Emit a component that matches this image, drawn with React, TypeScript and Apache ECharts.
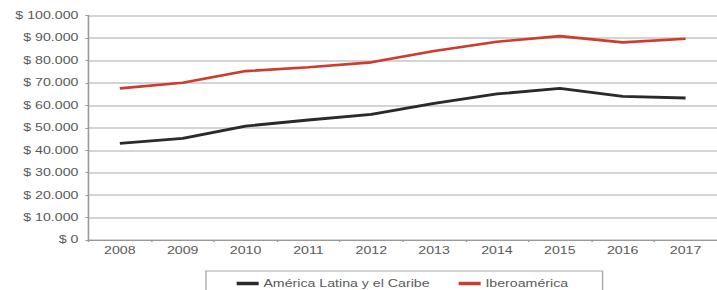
import React, { useEffect, useRef } from "react";
import * as echarts from "echarts";

const categories = ["2008", "2009", "2010", "2011", "2012", "2013", "2014", "2015", "2016", "2017"];
const latinAmerica = [43100, 45300, 50800, 53500, 56000, 60900, 65100, 67600, 64000, 63300];
const iberoamerica = [67600, 70100, 75300, 77000, 79200, 84300, 88400, 90900, 88100, 89700];
const seriesNames = ["América Latina y el Caribe", "Iberoamérica"];

const W = 531;
const S = 717 / W;
const FONT = "'Liberation Sans', Arial, sans-serif";
const TEXT = "#5a5a5a";
const FS = 10.5;

const fmt = (v: number) => "$ " + String(v).replace(/\B(?=(\d{3})+(?!\d))/g, ".");

export default function App() {
  const ref = useRef<HTMLDivElement>(null);
  useEffect(() => {
    if (!ref.current) return;
    const chart = echarts.init(ref.current, undefined, { renderer: "svg" });
    chart.setOption({
      animation: false,
      textStyle: { fontFamily: FONT },
      grid: { left: 88.4 / S, right: W - 722.5 / S, top: 15.7, bottom: 50 },
      legend: {
        left: 206 / S,
        top: 271,
        orient: "horizontal",
        borderColor: "#a8a8a8",
        borderWidth: 1,
        padding: [7, 25.5, 14, 22.7],
        itemWidth: 22 / S,
        itemHeight: 3.5,
        itemGap: 21.5,
        icon: "rect",
        textStyle: { fontSize: FS, color: TEXT, fontFamily: FONT, padding: [0, 0, 0, -1.5] },
        data: seriesNames,
      },
      xAxis: {
        type: "category",
        data: categories,
        boundaryGap: true,
        axisLine: { show: true, lineStyle: { color: "#9a9a9a", width: 1.2 } },
        axisTick: { show: true, length: 2, lineStyle: { color: "#9a9a9a" } },
        axisLabel: { fontSize: FS, color: TEXT, margin: 5, fontFamily: FONT },
        splitLine: { show: false },
      },
      yAxis: {
        type: "value",
        min: 0,
        max: 100000,
        interval: 10000,
        axisLine: { show: true, lineStyle: { color: "#9a9a9a", width: 1.2 } },
        axisTick: { show: true, length: 2.2, lineStyle: { color: "#9a9a9a" } },
        axisLabel: { fontSize: FS, color: TEXT, margin: 7.4, formatter: fmt, fontFamily: FONT },
        splitLine: { show: true, lineStyle: { color: "#c6c6c6", width: 1.5 } },
      },
      series: [
        {
          name: seriesNames[0],
          type: "line",
          data: latinAmerica,
          symbol: "none",
          color: "#2a2a2a",
          lineStyle: { color: "#2a2a2a", width: 2.8 },
        },
        {
          name: seriesNames[1],
          type: "line",
          data: iberoamerica,
          symbol: "none",
          color: "#cf3b2c",
          lineStyle: { color: "#cf3b2c", width: 2.6 },
        },
      ],
    });
    return () => chart.dispose();
  }, []);
  return (
    <div style={{ position: "fixed", left: 0, top: 0, width: 717, height: 290, overflow: "hidden", background: "#fff" }}>
      <div
        ref={ref}
        style={{ width: W, height: 290, transform: `scaleX(${S})`, transformOrigin: "0 0" }}
      />
    </div>
  );
}
